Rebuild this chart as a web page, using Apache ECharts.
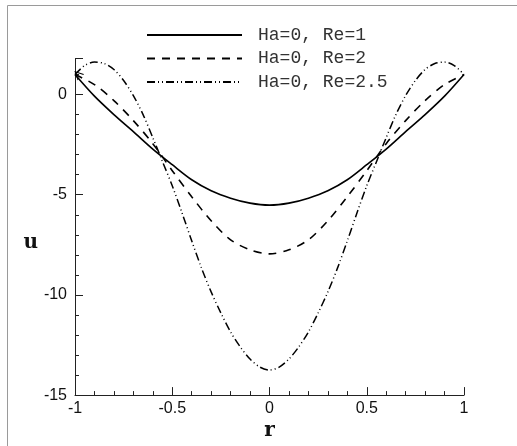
<!DOCTYPE html>
<html>
<head>
<meta charset="utf-8">
<script src="https://cdn.jsdelivr.net/npm/echarts@6/dist/echarts.min.js"></script>
<style>
  html, body { margin: 0; padding: 0; background: #fff; }
  #chart { width: 517px; height: 446px; }
</style>
</head>
<body>
<div id="chart"></div>
<script>
// Velocity profiles u(r) across the channel for three Reynolds numbers (Ha = 0)
const seriesNames = ['Ha=0, Re=1', 'Ha=0, Re=2', 'Ha=0, Re=2.5'];

// Re = 1 (solid)
const rRe1 = [-1, -0.9, -0.8, -0.7, -0.6, -0.5, -0.4, -0.3, -0.2, -0.1, 0,
              0.1, 0.2, 0.3, 0.4, 0.5, 0.6, 0.7, 0.8, 0.9, 1];
const uRe1 = [1.0, -0.08, -1.0, -1.85, -2.72, -3.5, -4.25, -4.8, -5.17, -5.42, -5.52,
              -5.42, -5.17, -4.8, -4.25, -3.5, -2.72, -1.85, -1.0, -0.08, 1.0];

// Re = 2 (dashed)
const rRe2 = [-1, -0.9, -0.8, -0.7, -0.6, -0.5, -0.4, -0.3, -0.2, -0.1, 0,
              0.1, 0.2, 0.3, 0.4, 0.5, 0.6, 0.7, 0.8, 0.9, 1];
const uRe2 = [1.0, 0.5, -0.3, -1.3, -2.45, -3.8, -5.1, -6.3, -7.25, -7.75, -7.95,
              -7.75, -7.25, -6.3, -5.1, -3.8, -2.45, -1.3, -0.3, 0.5, 1.0];

// Re = 2.5 (dash-dot-dot)
const rRe25 = [-1, -0.95, -0.9, -0.85, -0.8, -0.75, -0.7, -0.65, -0.6, -0.55, -0.5,
               -0.45, -0.4, -0.35, -0.3, -0.25, -0.2, -0.15, -0.1, -0.05, 0,
               0.05, 0.1, 0.15, 0.2, 0.25, 0.3, 0.35, 0.4, 0.45, 0.5,
               0.55, 0.6, 0.65, 0.7, 0.75, 0.8, 0.85, 0.9, 0.95, 1];
const uRe25 = [1.0, 1.45, 1.62, 1.55, 1.25, 0.7, -0.05, -1.0, -2.15, -3.35, -4.55,
               -5.9, -7.3, -8.65, -9.85, -10.9, -11.85, -12.6, -13.2, -13.6, -13.75,
               -13.6, -13.2, -12.6, -11.85, -10.9, -9.85, -8.65, -7.3, -5.9, -4.55,
               -3.35, -2.15, -1.0, -0.05, 0.7, 1.25, 1.55, 1.62, 1.45, 1.0];

// Axis ranges and ticks
const xMin = -1, xMax = 1, xStep = 0.5;
const yMin = -15, yMax = 1.8, yStep = 5;

const pairs = (xs, ys) => xs.map((x, i) => [x, ys[i]]);

const tickFont = 'Liberation Sans, Arial, sans-serif';
const monoFont = 'Courier New, Liberation Mono, monospace';
const nameFont = 'DejaVu Serif, serif';

const chart = echarts.init(document.getElementById('chart'), null, { renderer: 'canvas' });

chart.setOption({
  backgroundColor: '#ffffff',
  animation: false,
  graphic: [{
    type: 'rect',
    silent: true,
    shape: { x: 7.5, y: 5.5, width: 600, height: 600 },
    style: { fill: 'none', stroke: '#9a9a9a', lineWidth: 1 }
  }],
  grid: { left: 75, right: 53, top: 58.5, bottom: 47, containLabel: false },
  legend: {
    orient: 'vertical',
    left: 146,
    top: 26,
    padding: 0,
    itemWidth: 95,
    itemHeight: 14,
    itemGap: 5.5,
    data: seriesNames,
    itemStyle: { opacity: 0 },
    textStyle: {
      fontFamily: monoFont,
      fontSize: 18,
      lineHeight: 14,
      color: '#333',
      padding: [0, 0, 0, 11]
    }
  },
  xAxis: {
    type: 'value',
    min: xMin, max: xMax, interval: xStep,
    name: 'r',
    nameLocation: 'middle',
    nameGap: 22,
    nameTextStyle: { fontFamily: nameFont, fontWeight: 'bold', fontSize: 20, color: '#111' },
    axisLine: { show: true, onZero: false, lineStyle: { color: '#222', width: 1 } },
    axisTick: { show: true, inside: true, length: 8, lineStyle: { color: '#222' } },
    minorTick: { show: true, splitNumber: 5, length: 4, lineStyle: { color: '#222' } },
    axisLabel: { fontFamily: tickFont, fontSize: 16, color: '#111', margin: 5 },
    splitLine: { show: false }
  },
  yAxis: {
    type: 'value',
    min: yMin, max: yMax, interval: yStep,
    name: 'u',
    nameLocation: 'middle',
    nameRotate: 0,
    nameGap: 35,
    nameTextStyle: {
      fontFamily: nameFont, fontWeight: 'bold', fontSize: 20, color: '#111',
      verticalAlign: 'top',
      padding: [6, 0, 0, 0]
    },
    axisLine: { show: true, onZero: false, lineStyle: { color: '#222', width: 1 } },
    axisTick: { show: true, inside: true, length: 8, lineStyle: { color: '#222' } },
    minorTick: { show: true, splitNumber: 5, length: 4, lineStyle: { color: '#222' } },
    axisLabel: { fontFamily: tickFont, fontSize: 16, color: '#111', margin: 8, showMaxLabel: false },
    splitLine: { show: false }
  },
  series: [
    {
      name: seriesNames[0],
      type: 'line',
      smooth: 0.3,
      symbol: 'none',
      data: pairs(rRe1, uRe1),
      lineStyle: { color: '#000', width: 1.6, type: 'solid' },
      itemStyle: { color: '#000' },
      markPoint: {
        silent: true,
        label: { show: false },
        data: [{
          coord: [rRe1[0], uRe1[0]],
          symbol: 'path://M10,0 L0,5 L10,10',
          symbolSize: [8, 8],
          symbolRotate: -45,
          symbolOffset: [3, 0],
          itemStyle: { color: 'none', borderColor: '#000', borderWidth: 1 }
        }]
      }
    },
    {
      name: seriesNames[1],
      type: 'line',
      smooth: 0.3,
      symbol: 'none',
      data: pairs(rRe2, uRe2),
      lineStyle: { color: '#000', width: 1.6, type: [8, 7] },
      itemStyle: { color: '#000' }
    },
    {
      name: seriesNames[2],
      type: 'line',
      smooth: 0.3,
      symbol: 'none',
      data: pairs(rRe25, uRe25),
      lineStyle: { color: '#000', width: 1.5, type: [8, 3, 1, 3, 1, 3] },
      itemStyle: { color: '#000' }
    }
  ]
});
</script>
</body>
</html>
